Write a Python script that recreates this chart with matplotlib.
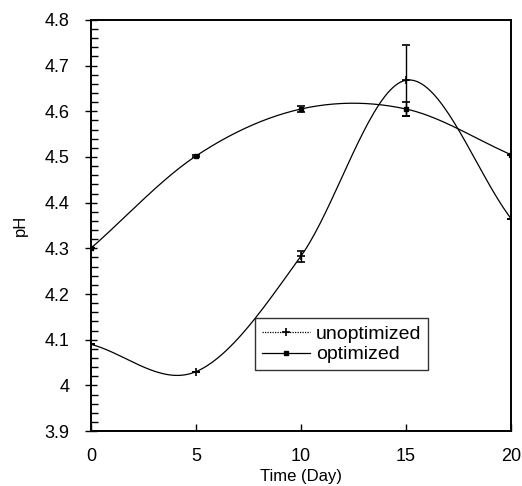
import numpy as np
import matplotlib.pyplot as plt
from matplotlib.ticker import MultipleLocator

plt.rcParams['font.family'] = ['Liberation Sans', 'DejaVu Sans']

# data
days = [0, 5, 10, 15, 20]
ph_unopt = [4.09, 4.03, 4.283, 4.668, 4.365]
err_unopt = [0.0, 0.0, 0.012, 0.078, 0.0]
ph_opt = [4.30, 4.502, 4.605, 4.605, 4.505]
err_opt = [0.0, 0.003, 0.006, 0.016, 0.0]


def smooth(x, y, n=40):
    # catmull-rom, like the spreadsheet "smoothed line"
    x = np.asarray(x, float)
    y = np.asarray(y, float)
    px = np.concatenate([[2 * x[0] - x[1]], x, [2 * x[-1] - x[-2]]])
    py = np.concatenate([[2 * y[0] - y[1]], y, [2 * y[-1] - y[-2]]])
    xs, ys = [], []
    t = np.linspace(0, 1, n)
    for i in range(1, len(px) - 2):
        for p, out in ((px, xs), (py, ys)):
            p0, p1, p2, p3 = p[i - 1], p[i], p[i + 1], p[i + 2]
            out.append(0.5 * (2 * p1 + (-p0 + p2) * t
                              + (2 * p0 - 5 * p1 + 4 * p2 - p3) * t ** 2
                              + (-p0 + 3 * p1 - 3 * p2 + p3) * t ** 3))
    return np.concatenate(xs), np.concatenate(ys)


fig = plt.figure(figsize=(5.22, 4.86), dpi=100)
ax = fig.add_axes([0.174, 0.113, 0.805, 0.846])

sx, sy = smooth(days, ph_unopt)
ax.plot(sx, sy, color='black', lw=0.9)
ax.errorbar(days, ph_unopt, yerr=err_unopt, fmt='+', color='black', ms=6,
            mew=1.2, ecolor='black', elinewidth=1.0, capsize=3, capthick=1.2)
ax.plot([], [], color='black', lw=0.9, ls=(0, (1, 1)), marker='+', ms=6,
        mew=1.2, label='unoptimized')

sx, sy = smooth(days, ph_opt)
ax.plot(sx, sy, color='black', lw=0.9)
ax.errorbar(days, ph_opt, yerr=err_opt, fmt='s', color='black', ms=3,
            ecolor='black', elinewidth=1.0, capsize=3, capthick=1.2)
ax.plot([], [], color='black', lw=0.9, marker='s', ms=3, label='optimized')

ax.set_xlim(0, 20)
ax.set_ylim(3.9, 4.8)
ax.set_xticks([0, 5, 10, 15, 20])
ax.set_yticks([3.9, 4.0, 4.1, 4.2, 4.3, 4.4, 4.5, 4.6, 4.7, 4.8])
ax.set_yticklabels(['3.9', '4', '4.1', '4.2', '4.3', '4.4', '4.5', '4.6', '4.7', '4.8'])
ax.yaxis.set_minor_locator(MultipleLocator(0.02))
ax.tick_params(axis='x', direction='in', length=5, width=1, labelsize=13, pad=12)
ax.tick_params(axis='y', which='major', direction='inout', length=9, width=1,
               labelsize=13, pad=11)
ax.tick_params(axis='y', which='minor', direction='in', length=5, width=1)
for s in ax.spines.values():
    s.set_linewidth(1.4)

ax.set_xlabel('Time (Day)', fontsize=12, labelpad=3)
ax.set_ylabel('pH', fontsize=12, labelpad=12)

leg = ax.legend(loc='lower left', bbox_to_anchor=(0.39, 0.148), fontsize=14,
                frameon=True, fancybox=False, edgecolor='black', handlelength=2.5,
                borderpad=0.35, labelspacing=0.15, handletextpad=0.3,
                borderaxespad=0)
leg.get_frame().set_linewidth(1.0)

fig.savefig('out.png', dpi=100)
